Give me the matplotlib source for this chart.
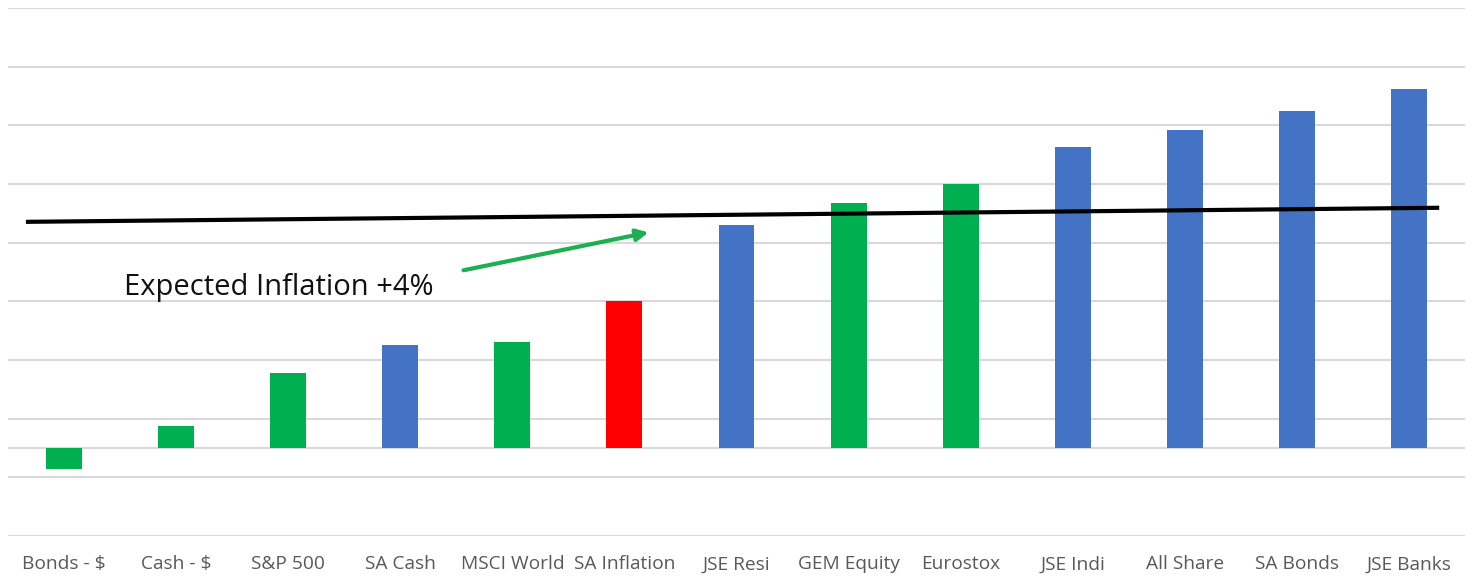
import matplotlib
matplotlib.use("Agg")
import matplotlib.pyplot as plt
import numpy as np

categories = ["Bonds - $", "Cash - $", "S&P 500", "SA Cash", "MSCI World", "SA Inflation",
              "JSE Resi", "GEM Equity", "Eurostox", "JSE Indi", "All Share", "SA Bonds", "JSE Banks"]
values = [-0.7, 0.75, 2.55, 3.5, 3.6, 5.0, 7.6, 8.35, 9.0, 10.25, 10.85, 11.5, 12.25]
bar_colors = ["#00B050", "#00B050", "#00B050", "#4472C4", "#00B050", "#FF0000",
              "#4472C4", "#00B050", "#00B050", "#4472C4", "#4472C4", "#4472C4", "#4472C4"]
line_x = [-0.34, 12.27]
line_y = [7.71, 8.19]
grid_values = [-3, -1, 1, 3, 5, 7, 9, 11, 13, 15]

fig = plt.figure(figsize=(14.75, 5.76), dpi=100)
ax = fig.add_axes([8/1475, 40/576, 1457/1475, 528/576])

x = np.arange(len(categories))
for g in grid_values:
    ax.axhline(g, color="#D9D9D9", lw=1.5, zorder=0)
ax.axhline(0, color="#D9D9D9", lw=1.5, zorder=0)

ax.bar(x, values, width=0.32, color=bar_colors, zorder=2)
ax.plot(line_x, line_y, color="black", lw=3, zorder=3, solid_capstyle="butt")

ax.text(0.535, 5.46, "Expected Inflation +4%", fontsize=21, family="Open Sans",
        color="#111111", va="center", ha="left", zorder=4)
ax.annotate("", xy=(5.24, 7.37), xytext=(3.54, 6.04),
            arrowprops=dict(arrowstyle="-|>,head_length=0.7,head_width=0.35", color="#1DB050", lw=3),
            zorder=4)

ax.set_xlim(-0.5, 12.5)
ax.set_ylim(-3, 15)
ax.set_xticks(x)
ax.set_xticklabels(categories, fontsize=13.8, family="Open Sans", color="#595959")
ax.tick_params(axis="x", length=0, pad=14)
ax.set_yticks([])
for s in ax.spines.values():
    s.set_visible(False)

fig.savefig("out.png", dpi=100, facecolor="white")
